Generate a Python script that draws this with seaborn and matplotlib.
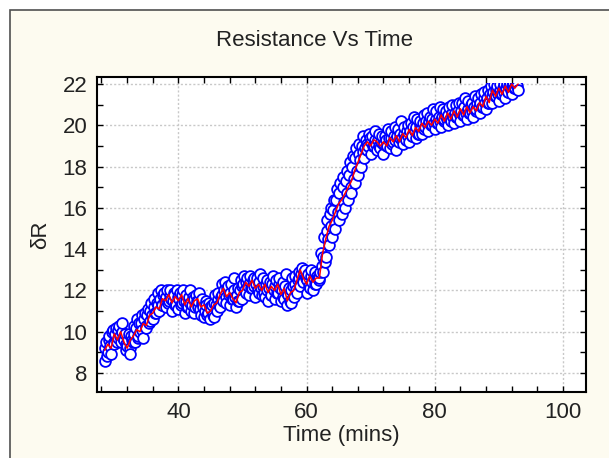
import numpy as np
import pandas as pd
import matplotlib
matplotlib.use("Agg")
import matplotlib.pyplot as plt
import seaborn as sns
from matplotlib.patches import Rectangle
from matplotlib.ticker import MultipleLocator, FixedLocator

# ---------------- data ----------------
scatter_t0, scatter_dt = 28.5, 0.25          # sampling of the measured points (mins)
scatter_dR = [
    8.6, 9.5,
    9.0, 9.8, 8.9, 10.1,
    9.4, 10.2, 9.7, 10.3,
    9.5, 10.4, 9.6, 9.1,
    9.3, 9.9, 8.9, 9.6,
    10.3, 9.5, 10.6, 9.8,
    10.0, 10.8, 9.7, 10.9,
    10.2, 11.1, 10.5, 11.4,
    10.6, 11.6, 10.9, 11.9,
    11.0, 12.0, 11.3, 11.9,
    11.2, 12.0, 11.5, 12.0,
    11.0, 11.9, 11.3, 12.0,
    11.1, 11.9, 11.4, 12.0,
    10.9, 11.8, 11.2, 12.0,
    11.0, 11.7, 10.9, 11.8,
    11.2, 11.9, 10.8, 11.6,
    10.7, 11.5, 10.8, 11.4,
    10.6, 11.3, 10.7, 11.8,
    11.0, 11.9, 11.2, 12.3,
    11.5, 12.4, 11.4, 12.2,
    11.3, 12.3, 11.6, 12.6,
    11.2, 12.1, 11.5, 12.5,
    11.6, 12.7, 11.9, 12.6,
    11.8, 12.7, 12.1, 12.6,
    11.7, 12.6, 11.9, 12.8,
    11.8, 12.6, 11.7, 12.5,
    11.5, 12.4, 11.8, 12.7,
    11.6, 12.5, 11.9, 12.6,
    11.5, 12.4, 11.6, 12.8,
    11.3, 12.1, 11.4, 12.6,
    11.7, 12.7, 11.9, 12.9,
    12.2, 13.1, 12.4, 13.0,
    11.9, 12.8, 12.1, 13.0,
    12.0, 12.9, 12.3, 12.6,
    12.6, 13.8, 12.9, 14.6,
    13.6, 15.4, 14.2, 16.0,
    14.6, 16.4, 15.0, 16.9,
    15.4, 17.2, 15.7, 17.5,
    16.0, 17.8, 16.4, 18.2,
    16.7, 18.5, 17.2, 18.9,
    17.6, 19.1, 18.0, 19.5,
    18.4, 19.3, 18.8, 19.6,
    18.6, 19.5, 19.0, 19.7,
    18.8, 19.6, 18.9, 19.5,
    18.6, 19.5, 19.0, 19.8,
    18.9, 19.7, 19.2, 19.9,
    18.8, 19.8, 19.4, 20.2,
    19.1, 19.9, 19.3, 20.0,
    19.2, 20.1, 19.5, 20.4,
    19.4, 20.3, 19.6, 20.2,
    19.6, 20.5, 19.9, 20.6,
    19.7, 20.4, 20.0, 20.8,
    19.8, 20.7, 20.1, 20.9,
    19.9, 20.8, 20.3, 20.7,
    20.0, 20.9, 20.2, 21.0,
    20.1, 21.0, 20.4, 21.1,
    20.2, 21.1, 20.5, 21.3,
    20.3, 21.2, 20.6, 21.1,
    20.4, 21.4, 20.8, 21.3,
    20.6, 21.5, 20.9, 21.6,
    20.8, 21.7, 21.1, 21.9,
    21.1, 22.0, 21.4, 21.9,
    21.2, 22.0, 21.5, 22.0,
    21.3, 22.0, 21.6, 22.0,
    21.5, 22.0, 21.8, 22.0,
    21.7,
]

scatter2_t0, scatter2_dt = 28.625, 0.25      # interleaved measured points (mins)
scatter2_dR = [
    9.2, 8.8,
    9.6, 9.3, 10.0, 9.5,
    9.9, 9.5, 10.1, 9.8,
    10.0, 9.7, 9.9, 9.4,
    9.6, 9.2, 9.8, 9.5,
    9.9, 10.2, 9.7, 10.4,
    10.4, 10.1, 10.6, 10.3,
    10.8, 10.4, 11.0, 10.8,
    11.2, 10.9, 11.4, 11.3,
    11.6, 11.3, 11.8, 11.5,
    11.7, 11.4, 11.8, 11.6,
    11.5, 11.8, 11.3, 11.7,
    11.6, 11.3, 11.8, 11.5,
    11.5, 11.2, 11.7, 11.4,
    11.3, 11.6, 11.2, 11.5,
    11.5, 11.1, 11.4, 11.2,
    11.0, 11.3, 10.9, 11.2,
    11.1, 10.8, 11.4, 11.3,
    11.6, 11.3, 11.7, 11.8,
    12.0, 11.7, 12.1, 11.8,
    11.9, 11.6, 12.0, 11.7,
    11.8, 11.5, 12.0, 12.2,
    12.3, 12.0, 12.4, 12.2,
    12.4, 12.1, 12.5, 12.2,
    12.3, 12.0, 12.4, 12.1,
    12.2, 11.9, 12.3, 12.0,
    12.1, 11.8, 12.3, 12.0,
    12.2, 11.9, 12.3, 12.1,
    12.0, 11.7, 12.2, 11.9,
    11.8, 11.5, 12.0, 12.2,
    12.3, 12.0, 12.5, 12.6,
    12.8, 12.5, 12.9, 12.6,
    12.5, 12.2, 12.7, 12.4,
    12.6, 12.3, 12.7, 12.5,
    12.9, 13.2, 13.6, 13.4,
    14.9, 14.5, 15.7, 15.1,
    15.9, 15.3, 16.4, 15.8,
    16.7, 16.0, 17.0, 16.3,
    17.3, 16.7, 17.6, 17.0,
    18.0, 17.4, 18.4, 17.8,
    18.6, 18.3, 19.0, 18.7,
    18.9, 19.1, 19.0, 19.4,
    19.2, 19.0, 19.3, 19.1,
    19.3, 19.0, 19.2, 19.1,
    19.1, 19.3, 19.0, 19.4,
    19.4, 19.1, 19.5, 19.3,
    19.5, 19.2, 19.6, 19.4,
    19.6, 19.4, 19.7, 19.5,
    19.7, 19.5, 19.9, 19.7,
    19.9, 19.6, 20.0, 19.8,
    20.1, 19.8, 20.2, 20.0,
    20.2, 20.0, 20.3, 20.1,
    20.3, 20.1, 20.4, 20.2,
    20.4, 20.2, 20.5, 20.3,
    20.5, 20.3, 20.6, 20.4,
    20.6, 20.4, 20.7, 20.5,
    20.7, 20.5, 20.9, 20.6,
    20.8, 20.6, 21.0, 20.7,
    20.9, 20.7, 21.1, 20.9,
    21.1, 20.9, 21.3, 21.1,
    21.3, 21.1, 21.5, 21.4,
    21.6, 21.4, 21.7, 21.5,
    21.7, 21.5, 21.8, 21.6,
    21.8, 21.6, 21.9, 21.7,
    21.9, 21.8, 22.0, 21.9,
]

line_t0, line_dt = 28.5, 0.5                 # sampling of the red trace (mins)
line_dR = [
    9.1,
    9.4, 9.2, 9.9, 9.6, 10.0, 9.5, 9.2, 9.6, 9.8, 10.1,
    10.0, 10.4, 10.3, 10.8, 10.9, 11.2, 11.1, 11.6, 11.5, 11.8,
    11.4, 11.7, 11.5, 11.8, 11.3, 11.6, 11.2, 11.5, 11.6, 11.2,
    11.3, 10.9, 11.0, 11.3, 11.4, 11.8, 12.1, 11.7, 11.9, 11.6,
    11.4, 11.9, 12.0, 12.4, 12.2, 12.5, 12.1, 12.3, 12.0, 12.3,
    11.9, 12.2, 12.0, 12.3, 11.8, 12.1, 11.5, 11.9, 12.0, 12.5,
    13.0, 12.6, 12.3, 12.7, 12.4, 12.6, 12.6, 13.8, 14.5, 15.1,
    15.4, 15.8, 16.2, 16.4, 16.7, 17.0, 17.3, 17.8, 18.2, 18.6,
    19.0, 19.2, 19.0, 19.3, 19.2, 19.0, 19.2, 19.0, 19.4, 19.2,
    19.5, 19.2, 19.6, 19.4, 19.8, 19.5, 19.9, 19.7, 20.1, 19.9,
    20.2, 20.0, 20.3, 20.1, 20.5, 20.2, 20.6, 20.3, 20.7, 20.4,
    20.8, 20.5, 20.9, 20.6, 20.9, 20.7, 21.1, 20.9, 21.4, 21.1,
    21.7, 21.4, 21.8, 21.5, 21.9, 21.6, 22.0, 21.8,
    22.0,
]

title = "Resistance Vs Time"
xlabel = "Time (mins)"
ylabel = "δR"
xticks = [40, 60, 80, 100]
yticks = [8, 10, 12, 14, 16, 18, 20, 22]

# ---------------- build frames ----------------
pts = pd.concat([
    pd.DataFrame({"t": scatter_t0 + scatter_dt * np.arange(len(scatter_dR)),
                  "dR": scatter_dR}),
    pd.DataFrame({"t": scatter2_t0 + scatter2_dt * np.arange(len(scatter2_dR)),
                  "dR": scatter2_dR}),
]).sort_values("t", kind="stable")
trace = pd.DataFrame({"t": line_t0 + line_dt * np.arange(len(line_dR)),
                      "dR": line_dR})

# ---------------- style ----------------
sns.set_style("white")
plt.rcParams["font.family"] = ["Liberation Sans", "DejaVu Sans"]

W, H = 609, 458
fig = plt.figure(figsize=(W / 100, H / 100), dpi=100)
fig.patch.set_facecolor("white")
cream = "#FDFBF0"
fig.patches.append(Rectangle((10 / W, -0.05), 1.1, 1 - 10 / H + 0.05,
                             transform=fig.transFigure, facecolor=cream,
                             edgecolor="#505050", linewidth=1.2, zorder=-10))

ax = fig.add_axes([97 / W, 1 - 392 / H, (586 - 97) / W, (392 - 77) / H])
ax.set_facecolor("white")

sns.scatterplot(data=pts, x="t", y="dR", ax=ax, marker="o", s=60,
                facecolor="white", edgecolor="#0000FF", linewidth=1.3,
                zorder=3, legend=False)
sns.lineplot(data=trace, x="t", y="dR", ax=ax, sort=False, color="#FF0000",
             linewidth=1.1, zorder=4, estimator=None)

ax.set_xlim(27.3, 103.6)
ax.set_ylim(7.08, 22.34)

clip = Rectangle((20, 6), 100, 22.05 - 6, transform=ax.transData)
for coll in ax.collections:
    coll.set_clip_path(clip)

ax.xaxis.set_major_locator(FixedLocator(xticks))
ax.xaxis.set_minor_locator(MultipleLocator(4))
ax.yaxis.set_major_locator(FixedLocator(yticks))
ax.yaxis.set_minor_locator(MultipleLocator(1))
ax.tick_params(which="both", direction="in", top=True, right=True,
               bottom=True, left=True, color="black", width=1.0)
ax.tick_params(which="major", length=4, labelsize=16, pad=7, labelcolor="#222222")
ax.tick_params(which="minor", length=4)

ax.grid(True, which="major", color="#C8C8C8", linestyle=(0, (1.5, 1.5)),
        linewidth=1.0, zorder=0)
ax.set_axisbelow(True)
for sp in ax.spines.values():
    sp.set_color("black")
    sp.set_linewidth(1.5)

ax.set_xlabel(xlabel, fontsize=16, color="#222222", labelpad=2)
ax.set_ylabel(ylabel, fontsize=16, color="#222222", labelpad=8)
fig.text(315 / W, 1 - 41 / H, title, ha="center", va="center",
         fontsize=16, color="#222222")

fig.savefig("out.png", dpi=100, facecolor=fig.get_facecolor())
